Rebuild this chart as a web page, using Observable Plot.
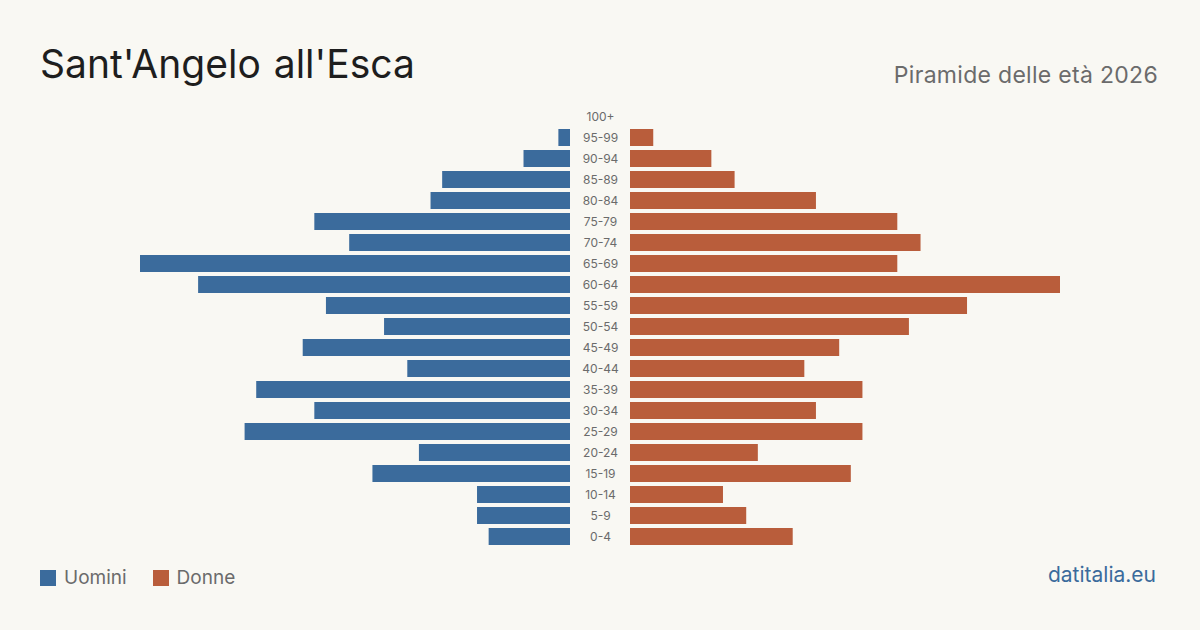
<!DOCTYPE html>
<html>
<head>
<meta charset="utf-8">
<script src="https://cdn.jsdelivr.net/npm/d3@7"></script>
<script src="https://cdn.jsdelivr.net/npm/@observablehq/plot@0.6"></script>
<style>
  html, body { margin: 0; padding: 0; background: #f9f8f3; }
  body { width: 1200px; height: 630px; position: relative; overflow: hidden; font-family: Inter, "Noto Sans", sans-serif; }
  #title { position: absolute; left: 40px; top: 40px; font-size: 39px; color: #1e1e1e; word-spacing: 2px; }
  #subtitle { position: absolute; right: 42px; top: 61px; font-size: 23px; color: #6b6b6b; letter-spacing: 0.3px; }
  #legend { position: absolute; left: 40px; top: 566px; display: flex; align-items: center; font-size: 19px; color: #6b6b6b; }
  .sw { width: 16px; height: 16px; display: inline-block; margin-right: 8px; }
  .item { display: flex; align-items: center; margin-right: 26px; }
  #source { position: absolute; right: 44px; top: 562px; font-size: 21px; color: #3b6b9c; }
  .panel { position: absolute; top: 95px; }
</style>
</head>
<body>
<div id="title">Sant'Angelo all'Esca</div>
<div id="subtitle">Piramide delle età 2026</div>
<div id="left" class="panel" style="left:0px"></div>
<div id="mid" class="panel" style="left:570px"></div>
<div id="right" class="panel" style="left:630px"></div>
<div id="legend">
  <div class="item"><span class="sw" style="background:#3b6b9c"></span>Uomini</div>
  <div class="item"><span class="sw" style="background:#b95d3b"></span>Donne</div>
</div>
<div id="source">datitalia.eu</div>
<script>
const ages = ["100+","95-99","90-94","85-89","80-84","75-79","70-74","65-69","60-64","55-59","50-54","45-49","40-44","35-39","30-34","25-29","20-24","15-19","10-14","5-9","0-4"];
const uomini = [0,1,4,11,12,22,19,37,32,21,16,23,14,27,22,28,13,17,8,8,7];
const donne  = [0,2,7,9,16,23,25,23,37,29,24,18,15,20,16,20,11,19,8,10,14];

const blue = "#3b6b9c", orange = "#b95d3b";
const rows = ages.map((a, i) => ({age: a, m: uomini[i], f: donne[i]}));
const maxV = d3.max([...uomini, ...donne]);
const H = 465, mt = 9.5, mb = 10.5, pad = 0.19;
const yOpts = {domain: ages, padding: pad, axis: null};

const left = Plot.plot({
  width: 570, height: H, marginTop: mt, marginBottom: mb, marginLeft: 140, marginRight: 0,
  x: {domain: [0, maxV], reverse: true, axis: null},
  y: yOpts,
  marks: [Plot.barX(rows, {x: "m", y: "age", fill: blue})]
});
const right = Plot.plot({
  width: 570, height: H, marginTop: mt, marginBottom: mb, marginLeft: 0, marginRight: 140,
  x: {domain: [0, maxV], axis: null},
  y: yOpts,
  marks: [Plot.barX(rows, {x: "f", y: "age", fill: orange})]
});
const mid = Plot.plot({
  width: 60, height: H, marginTop: mt, marginBottom: mb, marginLeft: 0, marginRight: 0,
  x: {domain: [0, 1], axis: null},
  y: yOpts,
  marks: [Plot.text(rows, {x: () => 0.5, y: "age", text: "age", fill: "#6b6b6b", fontSize: 12, fontFamily: "Inter, sans-serif"})]
});
for (const s of [left, right, mid]) { s.style.background = "transparent"; s.style.overflow = "visible"; }
document.getElementById("left").append(left);
document.getElementById("right").append(right);
document.getElementById("mid").append(mid);
</script>
</body>
</html>
